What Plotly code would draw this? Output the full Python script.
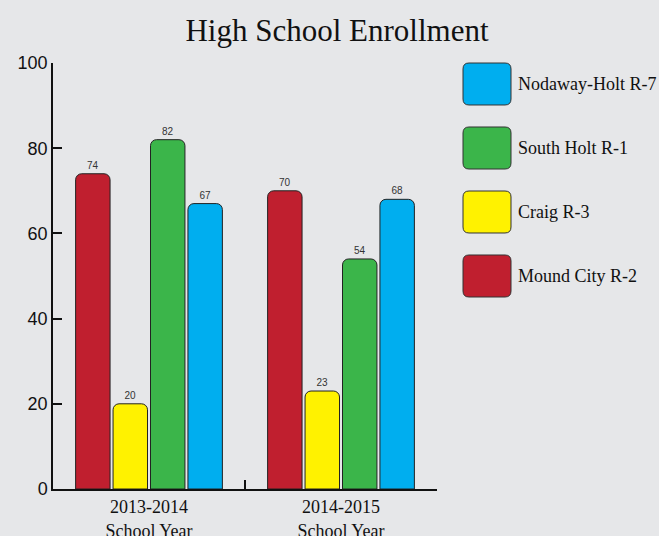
import plotly.graph_objects as go

categories = ["2013-2014<br>School Year", "2014-2015<br>School Year"]
series_names = ["Mound City R-2", "Craig R-3", "South Holt R-1", "Nodaway-Holt R-7"]
mound_city = [74, 70]
craig = [20, 23]
south_holt = [82, 54]
nodaway_holt = [67, 68]
series_values = [mound_city, craig, south_holt, nodaway_holt]
colors = ["#c01f2f", "#fff200", "#3bb54a", "#00aeef"]
y_ticks = [0, 20, 40, 60, 80, 100]

W, H = 659, 536
ML, MR, MT, MB = 53, 222, 63, 47
SERIF = "Liberation Serif, serif"
SANS = "Liberation Sans Narrow, Liberation Sans, sans-serif"

fig = go.Figure()
for name, vals, col in zip(series_names, series_values, colors):
    fig.add_trace(go.Bar(
        x=categories, y=vals, name=name,
        marker=dict(color=col, line=dict(color="#222222", width=1)),
        text=vals, textposition="outside", cliponaxis=False,
        textfont=dict(family=SANS, size=10, color="#333333"),
        showlegend=False,
    ))

pw = W - ML - MR
ph = H - MT - MB
def px_to_paper_x(px):
    return (px - ML) / pw
def px_to_paper_y(py):
    return (H - MB - py) / ph

shapes = []
annotations = []
leg_x0, leg_x1 = 463, 511
for i, (name, col) in enumerate(list(zip(series_names, colors))[::-1]):
    top = 63 + i * 64
    bot = top + 42
    r = 6
    x0, x1 = leg_x0, leg_x1
    pts = [
        ("M", x0 + r, top), ("L", x1 - r, top), ("Q", x1, top, x1, top + r),
        ("L", x1, bot - r), ("Q", x1, bot, x1 - r, bot), ("L", x0 + r, bot),
        ("Q", x0, bot, x0, bot - r), ("L", x0, top + r), ("Q", x0, top, x0 + r, top),
    ]
    parts = []
    for p in pts:
        coords = p[1:]
        cs = []
        for j in range(0, len(coords), 2):
            cs.append(f"{px_to_paper_x(coords[j]):.5f},{px_to_paper_y(coords[j+1]):.5f}")
        parts.append(p[0] + " " + " ".join(cs))
    path = " ".join(parts) + " Z"
    shapes.append(dict(type="path", path=path, xref="paper", yref="paper",
                       fillcolor=col, line=dict(color="#333333", width=1)))
    annotations.append(dict(x=px_to_paper_x(516), y=px_to_paper_y(top + 21), xref="paper", yref="paper",
                            text=name, showarrow=False, xanchor="left", yanchor="middle",
                            font=dict(family=SERIF, size=18, color="#111111")))

fig.update_layout(
    width=W, height=H,
    margin=dict(l=ML, r=MR, t=MT, b=MB),
    paper_bgcolor="#e6e7e9", plot_bgcolor="#e6e7e9",
    barmode="group", bargap=0.22, bargroupgap=0.08, barcornerradius=6,
    title=dict(text="High School Enrollment", x=337 / W, xanchor="center", y=1 - 30 / H, yanchor="middle",
               font=dict(family=SERIF, size=31, color="#111111")),
    font=dict(family=SERIF, color="#111111"),
    xaxis=dict(showline=True, linecolor="#111111", linewidth=1.5, ticks="inside", tickson="boundaries",
               ticklen=9, tickcolor="#111111", tickwidth=1.5, ticklabelstandoff=1, automargin=False,
               tickfont=dict(family=SERIF, size=18, color="#111111"), showgrid=False),
    yaxis=dict(range=[0, 100], tickvals=y_ticks, showline=True, linecolor="#111111", linewidth=1.5,
               ticks="inside", ticklen=9, tickcolor="#111111", tickwidth=1.5, showgrid=False, zeroline=False,
               automargin=False, tickfont=dict(family=SANS, size=18, color="#111111")),
    shapes=shapes, annotations=annotations,
)

fig.write_html("out.html", config={"displayModeBar": False},
               post_script="document.body.style.margin='0';")
